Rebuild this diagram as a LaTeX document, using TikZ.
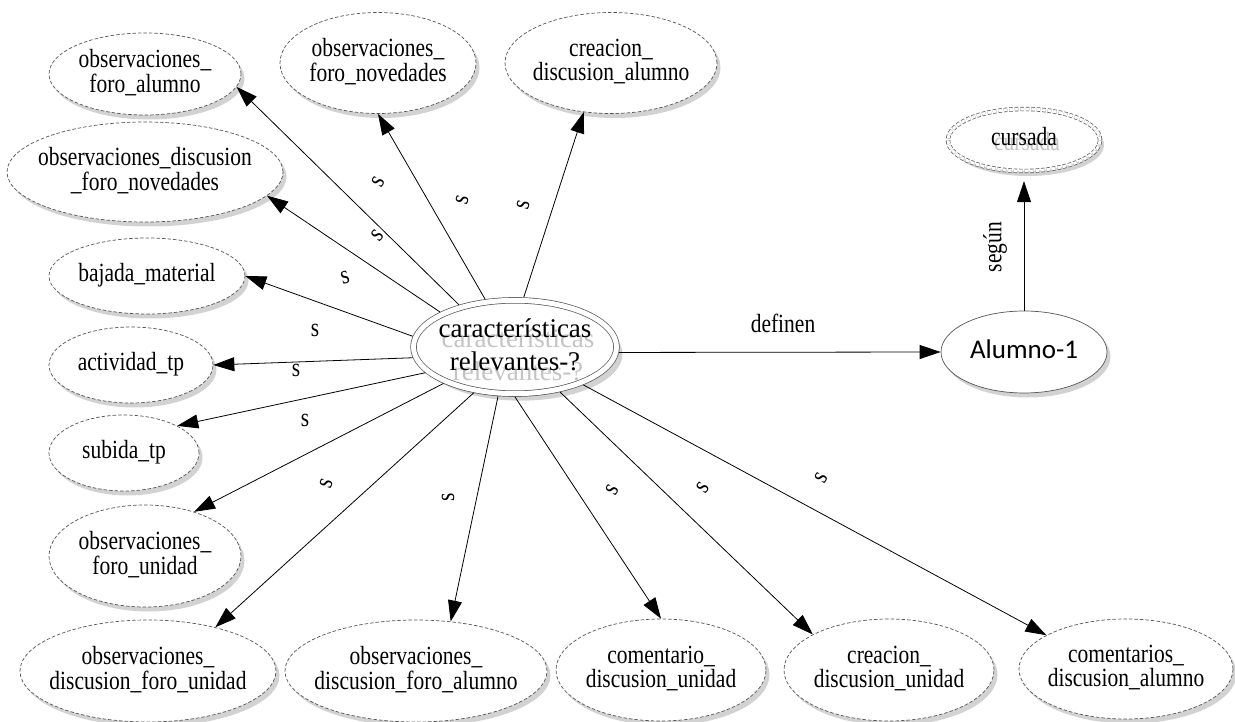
\documentclass[tikz,border=0pt]{standalone}
\usepackage{fontspec}
\usepackage{graphicx}
\setmainfont{Liberation Serif}
\newfontfamily\alufont{Carlito}
\usetikzlibrary{shapes.geometric,arrows.meta,shadows}
\definecolor{shadowc}{HTML}{D2D2D2}
\definecolor{txtshadow}{HTML}{C4C4C4}
\definecolor{linec}{HTML}{555555}
\newcommand{\vs}{1.22}
\newcommand{\nfont}{\fontsize{21.5}{17.4}\selectfont}
\newcommand{\cfont}{\fontsize{27}{33}\selectfont\def\vs{1}}
\newcommand{\tb}[1]{\scalebox{1}[\vs]{\begin{tabular}{@{}c@{}}#1\end{tabular}}}
\newcommand{\twol}[1]{\makebox[0pt]{\tb{#1}}}
\newcommand{\shtxt}[3]{\makebox[0pt]{\raisebox{-#2}[0pt][0pt]{\makebox[0pt]{\hspace*{#1}\hspace*{#1}\textcolor{txtshadow}{\tb{#3}}}}}\twol{#3}}
\newcommand{\st}[1]{\scalebox{1}[1.22]{#1}}
\tikzset{
  sz/.style 2 args={minimum width=#1pt, minimum height=#2pt},
  basenode/.style={ellipse, inner sep=0pt, font=\nfont, fill=white, line width=0.7pt, draw=linec},
  dnode/.style={basenode, dash pattern=on 3.5pt off 2pt,
    drop shadow={shadow xshift=3.5pt, shadow yshift=-4.5pt, fill=shadowc, opacity=1}},
  snode/.style={basenode,
    drop shadow={shadow xshift=3.5pt, shadow yshift=-4.5pt, fill=shadowc, opacity=1}},
  centernode/.style={basenode, font=\cfont, double=white, double distance=5pt, outer sep=3.3pt,
    drop shadow={shadow xshift=6pt, shadow yshift=-7pt, fill=shadowc, opacity=1}},
  dblnode/.style={basenode, dash pattern=on 3.5pt off 2pt, double=white, double distance=3pt, outer sep=2.2pt,
    drop shadow={shadow xshift=4pt, shadow yshift=-5pt, fill=shadowc, opacity=1}},
  conn/.style={draw=black, line width=0.8pt, -{Triangle[length=21pt, width=14pt]}},
  lab/.style={font=\nfont, inner sep=0pt}
}
\begin{document}
\begin{tikzpicture}[x=1pt, y=-1pt]
\fill[white] (0,0) rectangle (1235,722);
\useasboundingbox (0,0) rectangle (1235,722);

% nodes
\node[dnode, sz={192}{82}] (ofa) at (145,74) {\twol{observaciones\_\\foro\_alumno}};
\node[dnode, sz={196}{101}] (ofn) at (378,63) {\twol{observaciones\_\\foro\_novedades}};
\node[dnode, sz={212}{101}] (cda) at (611,63) {\twol{creacion\_\\discusion\_alumno}};
\node[dblnode, sz={152}{62}] (cursada) at (1024,140) {\shtxt{3pt}{5pt}{cursada}};
\node[dnode, sz={276}{100}] (odfn) at (145,172) {\twol{observaciones\_discusion\\\_foro\_novedades}};
\node[dnode, sz={196}{76}] (bm) at (147,276) {\twol{bajada\_material}};
\node[dnode, sz={164}{76}] (atp) at (131,365) {\twol{actividad\_tp}};
\node[dnode, sz={150}{76}] (stp) at (124,453) {\twol{subida\_tp}};
\node[centernode, sz={203}{77}] (car) at (515,347) {\shtxt{3pt}{10pt}{características\\relevantes-?}};
\node[snode, sz={166}{82}, font=\alufont\fontsize{27}{30}\selectfont\def\vs{1}] (alu) at (1024,352) {\twol{Alumno-1}};
\node[dnode, sz={192}{102}] (ofu) at (145,556) {\twol{observaciones\_\\foro\_unidad}};
\node[dnode, sz={256}{102}] (odfu) at (148,671) {\twol{observaciones\_\\discusion\_foro\_unidad}};
\node[dnode, sz={262}{102}] (odfa) at (416,671) {\twol{observaciones\_\\discusion\_foro\_alumno}};
\node[dnode, sz={210}{102}] (cdu) at (661,670) {\twol{comentario\_\\discusion\_unidad}};
\node[dnode, sz={210}{102}] (crdu) at (889,670) {\twol{creacion\_\\discusion\_unidad}};
\node[dnode, sz={214}{100}] (cdal) at (1126,669) {\twol{comentarios\_\\discusion\_alumno}};

% connectors
\draw[conn] (car.143) -- (ofa.352);
\draw[conn] (car.122) -- (ofn.270);
\draw[conn] (car.80) -- (cda.241);
\draw[conn] (car.155) -- (odfn.349);
\draw[conn] (car.174) -- (bm.east);
\draw[conn] (car.186) -- (atp.east);
\draw[conn] (car.196) -- (stp.27);
\draw[conn] (car.207) -- (ofu.42);
\draw[conn] (car.228) -- (odfu.33);
\draw[conn] (car.251) -- (odfa.55);
\draw[conn] (car.270) -- (cdu.90);
\draw[conn] (car.315) -- (crdu.155);
\draw[conn] (car.331) -- (cdal.157);
\draw[conn] (car.357) -- (alu.west);
\draw[conn, shorten >=8pt] (alu.north) -- (cursada.south);

% labels
\node[lab, rotate=60] (la) at (378,182) {\st{s}};
\node[lab, rotate=75] (lb) at (462,200) {\st{s}};
\node[lab, rotate=75] (lc) at (523,205) {\st{s}};
\node[lab, rotate=50] (ld) at (378,235) {\st{s}};
\node[lab, rotate=15] (le) at (345,278) {\st{s}};
\node[lab] (lf) at (315,330) {\st{s}};
\node[lab] (lg) at (296,370) {\st{s}};
\node[lab] (lh) at (305,420) {\st{s}};
\node[lab, rotate=70] (lj) at (326,483) {\st{s}};
\node[lab, rotate=90] (lk) at (448,497) {\st{s}};
\node[lab, rotate=60] (ll) at (612,490) {\st{s}};
\node[lab, rotate=55] (lm) at (703,488) {\st{s}};
\node[lab, rotate=60] (ln) at (821,478) {\st{s}};
\node[lab] (ldef) at (783,323) {\st{definen}};
\node[lab, rotate=90] (lseg) at (995,247) {\st{según}};
\end{tikzpicture}
\end{document}
